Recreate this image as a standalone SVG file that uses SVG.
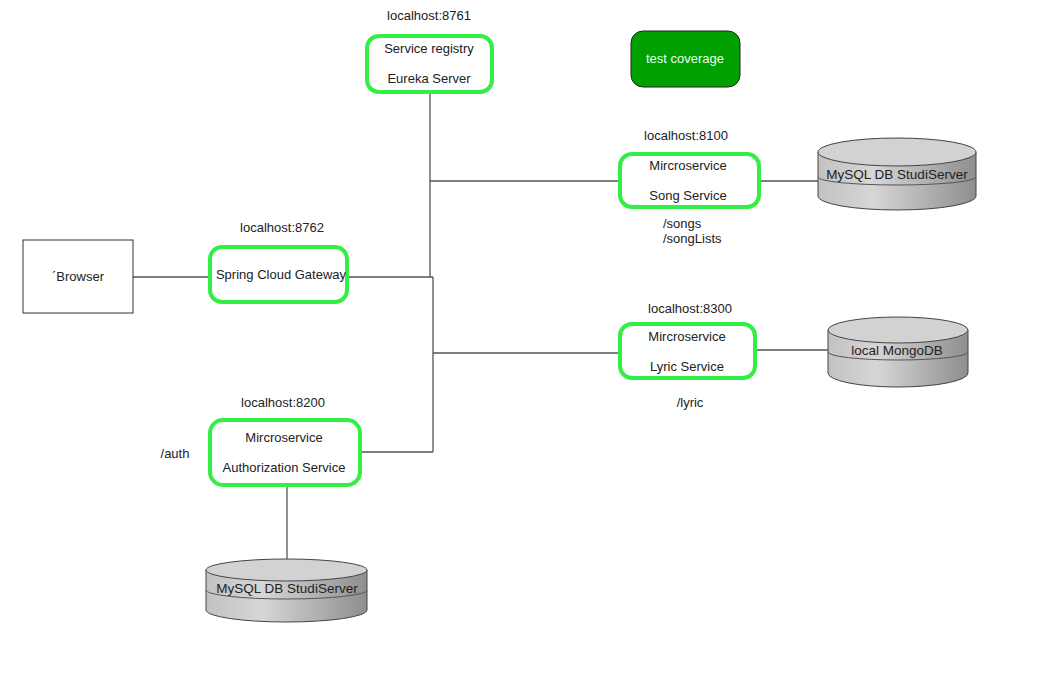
<svg xmlns="http://www.w3.org/2000/svg" width="1046" height="684" viewBox="0 0 1046 684">
<style>
text{font-family:"Liberation Sans",Arial,sans-serif;font-size:13px;fill:#222;text-anchor:middle}
.svc{fill:#fff;stroke:#33ee44;stroke-width:4}
.conn{stroke:#555;stroke-width:1.3;fill:none}
.cyl{fill:url(#cylg);stroke:#444;stroke-width:1}
.cyltop{fill:#d2d2d2;stroke:#444;stroke-width:1}
.band{fill:none;stroke:#555;stroke-width:1}
.db{font-size:13.5px}
.l{text-anchor:start}
</style>
<defs>
<linearGradient id="cylg" x1="0" y1="0" x2="1" y2="0">
<stop offset="0" stop-color="#c2c2c2"/>
<stop offset="0.35" stop-color="#d6d6d6"/>
<stop offset="1" stop-color="#8e8e8e"/>
</linearGradient>
</defs>
<rect width="1046" height="684" fill="#fff"/>
<g id="connectors">
<path class="conn" d="M430 93 V277 M433 277 V452"/>
<path class="conn" d="M430 181 H620"/>
<path class="conn" d="M347 277 H433"/>
<path class="conn" d="M433 353 H620"/>
<path class="conn" d="M360 452 H433"/>
<path class="conn" d="M133 277 H210"/>
<path class="conn" d="M760 181 H818"/>
<path class="conn" d="M755 350 H828"/>
<path class="conn" d="M287 485 V560"/>
</g>
<g id="eureka">
<text x="429" y="20">localhost:8761</text>
<rect class="svc" x="367" y="36" width="125" height="56" rx="12"/>
<text x="429" y="53">Service registry</text>
<text x="429" y="83">Eureka Server</text>
</g>
<g id="testcoverage">
<rect x="631" y="31" width="109" height="56" rx="12" fill="#00a000" stroke="#222" stroke-width="1"/>
<text x="685" y="63" style="fill:#eaffea">test coverage</text>
</g>
<g id="songservice">
<text x="686" y="140">localhost:8100</text>
<rect class="svc" x="620" y="154" width="139" height="53" rx="12"/>
<text x="688" y="170">Mircroservice</text>
<text x="688" y="200">Song Service</text>
<text class="l" x="663" y="228">/songs</text>
<text class="l" x="663" y="243">/songLists</text>
</g>
<g id="songdb">
<path class="cyl" d="M818 152 V196 A79 14 0 0 0 976 196 V152 Z"/>
<ellipse class="cyltop" cx="897" cy="152" rx="79" ry="14"/>
<path class="band" d="M818 177 A79 8 0 0 0 976 177"/>
<text class="db" x="897" y="179">MySQL DB StudiServer</text>
</g>
<g id="gateway">
<text x="282" y="232">localhost:8762</text>
<rect class="svc" x="210" y="247" width="137" height="55" rx="12"/>
<text x="281" y="279">Spring Cloud Gateway</text>
</g>
<g id="browser">
<rect x="23" y="240" width="110" height="73" fill="#fff" stroke="#333" stroke-width="1"/>
<text x="78" y="281">´Browser</text>
</g>
<g id="lyricservice">
<text x="690" y="313">localhost:8300</text>
<rect class="svc" x="620" y="324" width="135" height="54" rx="12"/>
<text x="687" y="341">Mircroservice</text>
<text x="687" y="371">Lyric Service</text>
<text x="690" y="407">/lyric</text>
</g>
<g id="mongodb">
<path class="cyl" d="M828 330 V373 A70 14 0 0 0 968 373 V330 Z"/>
<ellipse class="cyltop" cx="898" cy="330" rx="70" ry="13"/>
<path class="band" d="M828 352 A70 8 0 0 0 968 352"/>
<text class="db" x="897" y="355">local MongoDB</text>
</g>
<g id="authservice">
<text x="283" y="407">localhost:8200</text>
<rect class="svc" x="210" y="420" width="150" height="65" rx="13"/>
<text x="284" y="442">Mircroservice</text>
<text x="284" y="472">Authorization Service</text>
<text x="175" y="458">/auth</text>
</g>
<g id="authdb">
<path class="cyl" d="M206 570 V610 A80.5 12 0 0 0 367 610 V570 Z"/>
<ellipse class="cyltop" cx="286.5" cy="570" rx="80.5" ry="11"/>
<path class="band" d="M206 590 A80.5 9 0 0 0 367 590"/>
<text class="db" x="287" y="593">MySQL DB StudiServer</text>
</g>
</svg>
